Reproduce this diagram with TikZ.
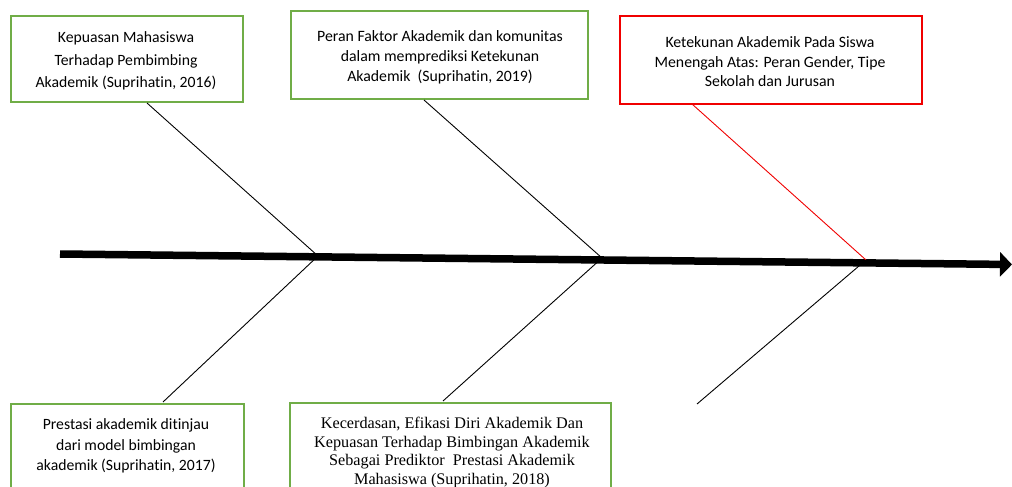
\documentclass[tikz,border=0pt]{standalone}
\usepackage{fontspec}
\setmainfont[Ligatures=CommonOff]{Carlito}
\newfontfamily\timesfont{Liberation Serif}
\usetikzlibrary{arrows.meta}
\definecolor{boxgreen}{RGB}{112,173,71}
\definecolor{boxred}{RGB}{240,0,0}
\tikzset{
  refbox/.style={draw=boxgreen, line width=2.4pt, fill=white, align=center, anchor=north west, inner sep=0pt},
  redbox/.style={refbox, draw=boxred},
  bone/.style={line width=0.9pt, black},
  spine/.style={line width=7.5pt, -{Triangle[length=12pt,width=24pt]}},
}
\begin{document}
\begin{tikzpicture}[x=1pt,y=-1pt]
\useasboundingbox (0,0) rectangle (1012,487);
% boxes
\node[refbox, minimum width=232pt, minimum height=86pt] (b1) at (10,15) {};
\node[font=\fontsize{15.7}{22.5}\selectfont, align=center] (t1) at (126,61) {Kepuasan Mahasiswa\\Terhadap Pembimbing\\Akademik (Suprihatin, 2016)};
\node[refbox, minimum width=297pt, minimum height=88pt] (b2) at (290,10) {};
\node[font=\fontsize{15.8}{20}\selectfont, align=center] (t2) at (440,57) {Peran Faktor Akademik dan komunitas\\dalam memprediksi Ketekunan\\Akademik~~(Suprihatin, 2019)};
\node[redbox, minimum width=302pt, minimum height=88pt] (b3) at (619,15) {};
\node[font=\fontsize{15.8}{19.5}\selectfont, align=center] (t3) at (770,62) {Ketekunan Akademik Pada Siswa\\Menengah Atas: Peran Gender, Tipe\\Sekolah dan Jurusan};
\node[refbox, minimum width=233pt, minimum height=100pt] (b4) at (10,403) {};
\node[font=\fontsize{15.7}{20.5}\selectfont, align=center] (t4) at (126,446) {Prestasi akademik ditinjau\\dari model bimbingan\\akademik (Suprihatin, 2017)};
\node[refbox, minimum width=321pt, minimum height=100pt] (b5) at (289,402) {};
\node[font=\timesfont\fontsize{16.2}{18.5}\selectfont, align=center, anchor=north] (t5) at (452,414) {Kecerdasan, Efikasi Diri Akademik Dan\\Kepuasan Terhadap Bimbingan Akademik\\Sebagai Prediktor~~Prestasi Akademik\\Mahasiswa (Suprihatin, 2018)};
% spine
\coordinate (s0) at (60,254);
\coordinate (s1) at (1012,264.5);
\coordinate (j1) at (318,256);
\coordinate (j2) at (602,258);
\coordinate (j3) at (866,260);
\coordinate (free) at (697,404);
\draw[spine] (s0) -- (s1);
% bones
\draw[bone] (147,103) -- (j1);
\draw[bone] (j1) -- (163,402);
\draw[bone] (424,100) -- (j2);
\draw[bone] (j2) -- (443,401);
\draw[bone, draw=boxred] (692,104) -- (j3);
\draw[bone] (j3) -- (free);
\end{tikzpicture}
\end{document}
